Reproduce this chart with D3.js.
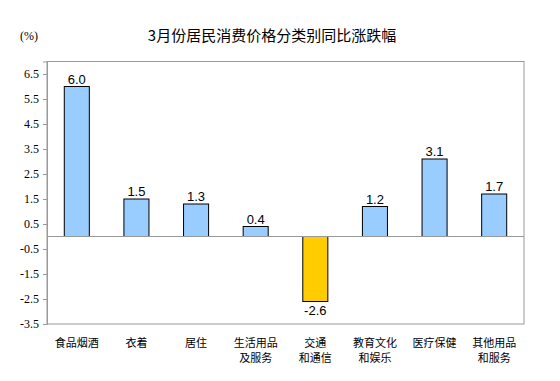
<!DOCTYPE html>
<html>
<head>
<meta charset="utf-8">
<script src="https://cdn.jsdelivr.net/npm/d3@7"></script>
<style>
  body { margin: 0; background: #fff; }
  svg { display: block; }
</style>
</head>
<body>
<div id="chart"></div>
<script>
// categories, each split into the lines shown under the axis
const categories = ["食品烟酒", "衣着", "居住", "生活用品及服务", "交通和通信", "教育文化和娱乐", "医疗保健", "其他用品和服务"];
const categoryLines = [["食品烟酒"], ["衣着"], ["居住"], ["生活用品", "及服务"], ["交通", "和通信"], ["教育文化", "和娱乐"], ["医疗保健"], ["其他用品", "和服务"]];
const values = [6.0, 1.5, 1.3, 0.4, -2.6, 1.2, 3.1, 1.7];
const yTicks = [6.5, 5.5, 4.5, 3.5, 2.5, 1.5, 0.5, -0.5, -1.5, -2.5, -3.5];

const width = 560, height = 381;
const margin = {top: 61.5, right: 36, bottom: 57, left: 47};

// plain hyphen for negatives, like the original
const fmt = d => d3.format(".1f")(d).replace("\u2212", "-");

const svg = d3.select("#chart").append("svg")
    .attr("width", width)
    .attr("height", height);

const x = d3.scaleBand()
    .domain(categories)
    .range([margin.left, width - margin.right])
    .paddingInner(0.58)
    .paddingOuter(0.29);

const y = d3.scaleLinear()
    .domain([-3.5, 7])
    .range([height - margin.bottom, margin.top]);

// title
svg.append("text")
    .attr("x", 272)
    .attr("y", 41)
    .attr("text-anchor", "middle")
    .style("font-family", "'Noto Sans CJK SC', sans-serif")
    .style("font-size", "15px")
    .attr("fill", "#000")
    .text("3月份居民消费价格分类别同比涨跌幅");

svg.append("text")
    .attr("x", 20)
    .attr("y", 40)
    .style("font-family", "'Liberation Serif', serif")
    .style("font-size", "12px")
    .text("(%)");

// plot frame
svg.append("rect")
    .attr("x", margin.left)
    .attr("y", margin.top)
    .attr("width", width - margin.right - margin.left)
    .attr("height", height - margin.bottom - margin.top)
    .attr("fill", "none")
    .attr("stroke", "#999")
    .attr("stroke-width", 1);

// y axis
const yAxis = svg.append("g")
    .attr("transform", `translate(${margin.left},0)`)
    .call(d3.axisLeft(y).tickValues(yTicks).tickSize(4).tickPadding(4).tickFormat(fmt))
    .attr("font-family", "'Liberation Serif', 'Times New Roman', serif")
    .attr("font-size", 12);
yAxis.select(".domain").attr("stroke", "#999");
yAxis.selectAll(".tick line").attr("stroke", "#999");
yAxis.selectAll(".tick text").attr("fill", "#000");

// bars
svg.append("g").selectAll("rect")
    .data(values)
    .join("rect")
    .attr("x", (d, i) => x(categories[i]))
    .attr("y", d => y(Math.max(0, d)))
    .attr("width", x.bandwidth())
    .attr("height", d => Math.abs(y(d) - y(0)))
    .attr("fill", d => d < 0 ? "#ffcc00" : "#99ccff")
    .attr("stroke", "#000")
    .attr("stroke-width", 1);

// zero line
svg.append("line")
    .attr("x1", margin.left)
    .attr("x2", width - margin.right)
    .attr("y1", y(0))
    .attr("y2", y(0))
    .attr("stroke", "#999");

// value labels
svg.append("g").selectAll("text")
    .data(values)
    .join("text")
    .attr("x", (d, i) => x(categories[i]) + x.bandwidth() / 2)
    .attr("y", d => d < 0 ? y(d) + 13 : y(d) - 3)
    .attr("text-anchor", "middle")
    .style("font-family", "'Liberation Sans', Arial, sans-serif")
    .style("font-size", "13px")
    .text(fmt);

// category labels, one text per line
const labelRows = categoryLines.flatMap((lines, i) =>
    lines.map((t, j) => ({t, i, j})));
svg.append("g").selectAll("text")
    .data(labelRows)
    .join("text")
    .attr("x", d => x(categories[d.i]) + x.bandwidth() / 2)
    .attr("y", d => 346.5 + d.j * 15)
    .attr("text-anchor", "middle")
    .style("font-family", "'Noto Sans CJK SC', sans-serif")
    .style("font-size", "11px")
    .attr("fill", "#000")
    .text(d => d.t);
</script>
</body>
</html>
